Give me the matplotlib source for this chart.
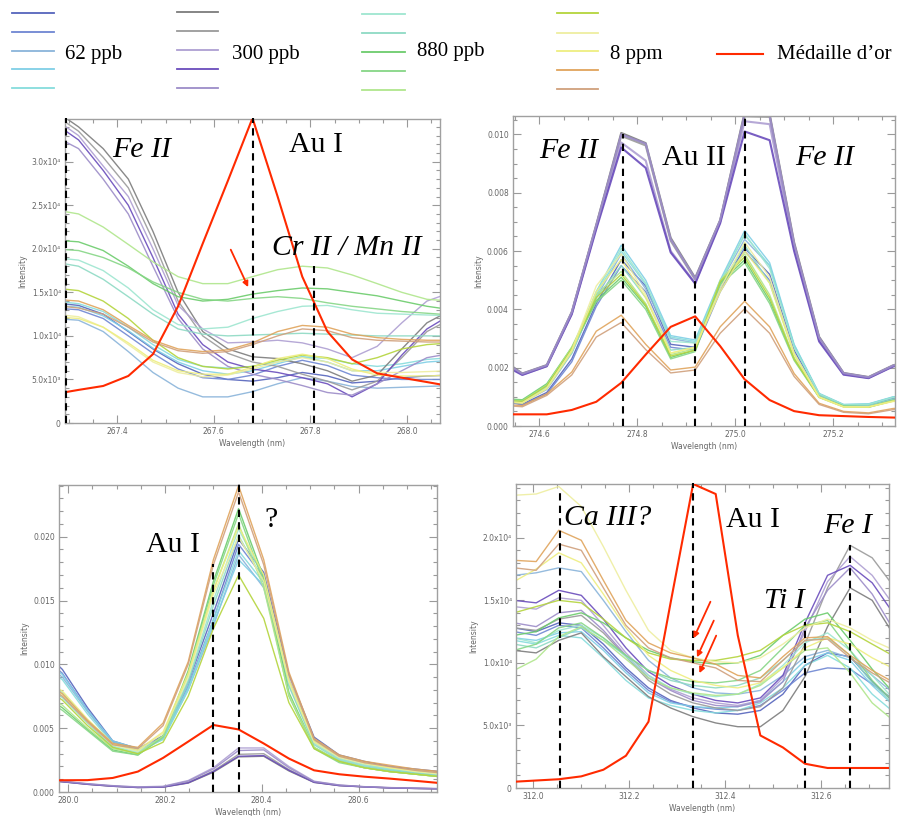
import numpy as np
import matplotlib.pyplot as plt
from matplotlib.lines import Line2D
from matplotlib.ticker import MultipleLocator, AutoMinorLocator, FuncFormatter

W, H = 902, 816

# legend groups
groups = ['62 ppb', '300 ppb', '880 ppb', '8 ppm']
gold_label = 'Médaille d\u2019or'
c62 = ['#5564bc', '#6e86d2', '#8ab4da', '#7fcfe6', '#86dcdc']
c300 = ['#7c7c7c', '#9a9a9a', '#ae9fd2', '#6a4cbc', '#9c8cc8']
c880 = ['#9ee6d0', '#8edac4', '#6ccc6c', '#86d686', '#b0e68c']
c8ppm = ['#b4d43c', '#eeeea0', '#eeee80', '#e0a45c', '#d0a07c']
gold_color = '#ff2a00'

# ---- panel 1 : 267 nm, intensity in units of 1e3
p1_x = [267.268, 267.320, 267.371, 267.423, 267.474, 267.526, 267.577, 267.629, 267.680,
        267.732, 267.783, 267.835, 267.886, 267.938, 267.989, 268.041, 268.092]
p1_red = [3.3, 3.8, 4.25, 5.4, 7.9, 13.4, 20.6, 27.8, 35.0, 26.0, 16.8, 10.5, 7.3, 5.7, 5.2, 4.7, 4.2]
p1_62 = [
    [13.8, 13.5, 12.5, 10.5, 8.5, 6.8, 5.6, 5.0, 4.8, 5.2, 5.8, 5.4, 4.6, 4.8, 5.2, 5.4, 5.5],
    [13.2, 13.0, 12.0, 10.0, 8.0, 6.2, 5.2, 5.0, 5.5, 6.5, 7.2, 6.6, 5.5, 5.2, 5.0, 5.0, 5.0],
    [12.0, 11.8, 10.5, 8.2, 5.8, 4.0, 3.0, 3.0, 3.6, 4.5, 5.2, 4.8, 4.2, 4.0, 4.1, 4.2, 4.3],
    [13.5, 13.3, 12.3, 10.6, 8.6, 7.0, 6.0, 5.6, 6.0, 6.8, 7.6, 7.0, 6.0, 6.0, 6.5, 7.0, 7.2],
    [14.0, 13.7, 12.8, 11.0, 9.0, 7.3, 6.5, 6.3, 6.5, 7.0, 7.6, 7.4, 6.8, 6.5, 6.8, 7.3, 7.5],
]
p1_300 = [
    [36.0, 34.0, 31.5, 28.0, 22.0, 15.0, 10.5, 8.5, 7.6, 7.4, 6.8, 6.0, 4.8, 5.5, 8.5, 11.5, 13.0],
    [35.5, 33.5, 30.5, 27.0, 21.0, 14.0, 10.0, 8.0, 7.0, 6.5, 5.6, 4.8, 3.8, 4.8, 7.5, 10.5, 12.0],
    [35.0, 33.0, 29.5, 26.0, 20.0, 13.5, 10.8, 9.2, 9.3, 9.5, 9.2, 8.5, 7.5, 8.8, 11.5, 14.0, 15.0],
    [34.5, 32.5, 29.0, 25.0, 19.0, 12.5, 9.0, 7.0, 6.2, 5.8, 5.2, 4.5, 3.0, 4.5, 7.8, 10.8, 12.5],
    [33.0, 31.5, 28.0, 24.0, 18.0, 12.0, 8.5, 6.5, 5.6, 5.0, 4.3, 3.5, 3.2, 4.5, 6.0, 7.5, 8.0],
]
p1_880 = [
    [19.0, 18.7, 17.5, 15.5, 13.0, 11.3, 10.8, 11.0, 12.0, 12.8, 13.4, 13.5, 13.0, 12.6, 12.5, 12.4, 12.3],
    [18.5, 18.0, 16.5, 14.5, 12.5, 10.8, 10.2, 10.0, 10.1, 10.2, 10.3, 10.2, 10.1, 10.0, 10.0, 10.0, 10.0],
    [21.0, 20.8, 19.8, 18.0, 16.0, 14.5, 14.0, 14.2, 14.8, 15.2, 15.5, 15.4, 15.0, 14.6, 14.0, 13.4, 13.0],
    [20.0, 19.8, 19.0, 17.8, 16.2, 15.0, 14.2, 14.0, 14.3, 14.5, 14.3, 13.8, 13.4, 13.1, 12.8, 12.6, 12.4],
    [24.5, 24.0, 22.5, 20.5, 18.5, 16.8, 16.0, 16.0, 16.8, 17.6, 18.0, 17.8, 17.0, 16.0, 15.0, 14.2, 14.0],
]
p1_8ppm = [
    [15.5, 15.2, 14.0, 12.0, 9.5, 7.5, 6.5, 6.2, 6.5, 7.2, 7.8, 7.5, 6.8, 7.5, 8.5, 9.0, 9.2],
    [12.5, 12.2, 11.0, 9.0, 7.0, 5.8, 5.3, 5.5, 6.2, 7.0, 7.5, 7.0, 6.0, 5.8, 5.8, 5.9, 6.0],
    [12.2, 12.0, 11.0, 9.2, 7.2, 6.0, 5.6, 5.6, 6.4, 7.4, 7.9, 7.4, 6.2, 5.5, 5.4, 5.4, 5.5],
    [14.2, 14.0, 13.0, 11.2, 9.5, 8.5, 8.2, 8.4, 9.2, 10.5, 11.2, 11.0, 10.2, 9.8, 9.6, 9.5, 9.5],
    [13.5, 13.2, 12.5, 11.0, 9.3, 8.3, 8.0, 8.2, 9.0, 10.0, 10.8, 10.6, 9.8, 9.5, 9.4, 9.3, 9.3],
]

# ---- panel 2 : 275 nm, intensity in units of 1e-3
p2_x = [274.514, 274.565, 274.615, 274.666, 274.716, 274.767, 274.817, 274.868, 274.918,
        274.969, 275.019, 275.070, 275.120, 275.171, 275.221, 275.272, 275.322, 275.373]
p2_red = [0.40, 0.40, 0.40, 0.55, 0.83, 1.48, 2.45, 3.40, 3.76, 2.74, 1.60, 0.89, 0.51, 0.37, 0.34, 0.31, 0.29, 0.27]
p2_62 = [
    [0.90, 0.75, 1.15, 2.3, 4.2, 5.7, 4.8, 2.8, 2.7, 4.7, 6.1, 5.2, 2.6, 1.05, 0.70, 0.72, 0.95, 1.0],
    [0.90, 0.72, 1.10, 2.2, 4.1, 5.5, 4.6, 2.7, 2.6, 4.6, 6.0, 5.0, 2.5, 1.00, 0.68, 0.70, 0.92, 1.0],
    [0.95, 0.80, 1.25, 2.5, 4.4, 5.9, 4.7, 3.0, 2.85, 4.9, 6.4, 5.5, 2.75, 1.10, 0.72, 0.74, 0.98, 1.05],
    [1.00, 0.85, 1.35, 2.6, 4.6, 6.2, 5.0, 3.1, 2.95, 5.0, 6.7, 5.6, 2.8, 1.12, 0.74, 0.76, 1.00, 1.05],
    [0.95, 0.82, 1.30, 2.55, 4.5, 6.0, 4.85, 3.05, 2.9, 4.95, 6.55, 5.5, 2.78, 1.10, 0.73, 0.75, 0.99, 1.05],
]
p2_300 = [
    [2.40, 1.80, 2.09, 3.91, 6.90, 10.05, 9.70, 6.45, 5.08, 7.06, 10.75, 10.70, 6.30, 3.06, 1.82, 1.68, 2.08, 2.30],
    [2.30, 1.78, 2.07, 3.88, 6.85, 9.95, 9.62, 6.35, 5.02, 7.02, 10.62, 10.60, 6.20, 3.00, 1.80, 1.66, 2.06, 2.30],
    [2.30, 1.76, 2.05, 3.85, 6.80, 9.72, 9.10, 6.00, 4.90, 7.00, 10.45, 10.35, 6.10, 2.95, 1.78, 1.65, 2.05, 2.20],
    [2.20, 1.75, 2.05, 3.83, 6.75, 9.55, 8.85, 5.95, 4.88, 6.95, 10.10, 9.80, 6.00, 2.90, 1.76, 1.64, 2.04, 2.20],
    [2.35, 1.79, 2.08, 3.90, 6.88, 10.00, 9.68, 6.40, 5.05, 7.05, 10.70, 10.65, 6.25, 3.03, 1.81, 1.67, 2.07, 2.30],
]
p2_880 = [
    [0.95, 0.85, 1.35, 2.6, 4.6, 6.1, 4.9, 2.9, 2.85, 4.9, 6.6, 5.4, 2.7, 1.10, 0.73, 0.74, 0.98, 1.0],
    [0.92, 0.82, 1.30, 2.5, 4.4, 5.5, 4.4, 2.6, 2.7, 4.8, 6.2, 4.9, 2.5, 1.05, 0.70, 0.70, 0.92, 1.0],
    [0.95, 0.90, 1.45, 2.7, 4.3, 5.1, 4.1, 2.35, 2.6, 4.9, 5.7, 4.3, 2.3, 1.00, 0.68, 0.66, 0.88, 0.95],
    [0.95, 0.88, 1.42, 2.65, 4.25, 5.0, 4.0, 2.3, 2.55, 4.85, 5.6, 4.2, 2.25, 0.98, 0.66, 0.64, 0.86, 0.9],
    [0.90, 0.85, 1.40, 2.7, 4.5, 5.3, 4.2, 2.45, 2.65, 5.0, 5.9, 4.5, 2.35, 1.00, 0.67, 0.66, 0.87, 0.9],
]
p2_8ppm = [
    [0.90, 0.84, 1.38, 2.65, 4.4, 5.2, 4.15, 2.4, 2.6, 4.95, 5.8, 4.4, 2.3, 1.00, 0.66, 0.65, 0.86, 0.9],
    [0.85, 0.80, 1.30, 2.6, 4.8, 5.9, 4.5, 2.5, 2.7, 4.7, 6.3, 5.1, 2.5, 1.00, 0.66, 0.66, 0.85, 0.9],
    [0.85, 0.78, 1.28, 2.55, 4.6, 5.7, 4.4, 2.5, 2.7, 4.6, 6.0, 4.9, 2.45, 0.98, 0.65, 0.65, 0.84, 0.9],
    [0.75, 0.70, 1.10, 1.85, 3.25, 3.80, 2.80, 1.92, 2.02, 3.40, 4.28, 3.40, 1.80, 0.78, 0.50, 0.45, 0.60, 0.65],
    [0.72, 0.66, 1.05, 1.75, 3.05, 3.55, 2.62, 1.82, 1.92, 3.18, 4.02, 3.18, 1.70, 0.74, 0.47, 0.42, 0.56, 0.60],
]

# ---- panel 3 : 280 nm, intensity in units of 1e-3
p3_x = [279.936, 279.988, 280.040, 280.092, 280.144, 280.196, 280.248, 280.300, 280.352,
        280.404, 280.456, 280.508, 280.560, 280.612, 280.664, 280.716, 280.768]
p3_red = [0.9, 0.92, 0.93, 1.1, 1.6, 2.67, 3.95, 5.25, 4.9, 3.8, 2.62, 1.70, 1.39, 1.2, 1.05, 0.88, 0.7]
p3_62 = [
    [11.5, 9.6, 6.6, 4.0, 3.4, 4.4, 8.6, 14.0, 19.8, 17.2, 9.2, 4.3, 2.9, 2.4, 2.0, 1.8, 1.6],
    [11.0, 9.3, 6.4, 3.9, 3.3, 4.3, 8.3, 13.5, 19.4, 16.8, 8.8, 4.1, 2.8, 2.3, 1.9, 1.7, 1.5],
    [10.5, 9.0, 6.3, 3.9, 3.3, 4.2, 8.0, 13.0, 18.6, 16.0, 8.4, 3.9, 2.7, 2.2, 1.8, 1.6, 1.4],
    [10.8, 9.2, 6.4, 4.0, 3.4, 4.2, 8.2, 13.2, 18.2, 16.2, 8.6, 4.0, 2.7, 2.2, 1.8, 1.6, 1.4],
    [10.2, 8.8, 6.1, 3.8, 3.2, 4.1, 8.0, 13.5, 18.9, 16.4, 8.5, 3.9, 2.6, 2.1, 1.7, 1.5, 1.3],
]
p3_300 = [
    [0.95, 0.80, 0.60, 0.45, 0.35, 0.38, 0.70, 1.55, 2.75, 2.80, 1.65, 0.75, 0.50, 0.40, 0.32, 0.28, 0.25],
    [0.95, 0.82, 0.62, 0.46, 0.36, 0.40, 0.75, 1.65, 2.95, 3.00, 1.75, 0.78, 0.52, 0.40, 0.33, 0.28, 0.25],
    [1.00, 0.85, 0.65, 0.50, 0.40, 0.45, 0.90, 1.90, 3.45, 3.45, 2.00, 0.85, 0.55, 0.42, 0.35, 0.30, 0.27],
    [0.95, 0.80, 0.60, 0.45, 0.35, 0.38, 0.72, 1.60, 2.80, 2.85, 1.70, 0.76, 0.50, 0.40, 0.32, 0.28, 0.25],
    [1.00, 0.84, 0.64, 0.48, 0.38, 0.42, 0.85, 1.80, 3.25, 3.30, 1.90, 0.82, 0.54, 0.41, 0.34, 0.29, 0.26],
]
p3_880 = [
    [9.0, 7.8, 5.6, 3.6, 3.1, 4.3, 8.8, 15.0, 20.6, 16.8, 8.5, 3.8, 2.6, 2.1, 1.8, 1.6, 1.4],
    [8.6, 7.4, 5.4, 3.5, 3.0, 4.2, 8.6, 14.6, 20.1, 16.5, 8.3, 3.7, 2.5, 2.0, 1.7, 1.5, 1.3],
    [7.8, 6.6, 4.9, 3.3, 2.9, 4.4, 9.5, 16.5, 22.2, 16.8, 7.8, 3.5, 2.4, 1.9, 1.6, 1.4, 1.2],
    [7.6, 6.4, 4.8, 3.2, 2.9, 4.3, 9.3, 16.2, 21.8, 16.4, 7.5, 3.4, 2.3, 1.9, 1.6, 1.4, 1.2],
    [8.0, 6.8, 5.0, 3.4, 3.0, 4.4, 9.2, 15.8, 21.0, 16.0, 7.6, 3.5, 2.4, 1.9, 1.6, 1.4, 1.2],
]
p3_8ppm = [
    [8.5, 7.2, 5.2, 3.5, 3.0, 3.9, 7.5, 12.8, 17.0, 13.6, 7.0, 3.4, 2.4, 1.9, 1.6, 1.4, 1.2],
    [9.0, 7.6, 5.5, 3.7, 3.2, 4.6, 9.0, 15.5, 20.0, 16.5, 8.6, 3.9, 2.7, 2.2, 1.9, 1.6, 1.4],
    [9.2, 7.9, 5.7, 3.8, 3.3, 4.7, 9.3, 15.8, 20.8, 17.0, 8.8, 4.0, 2.8, 2.3, 1.9, 1.7, 1.5],
    [9.0, 7.7, 5.6, 3.8, 3.5, 5.4, 10.2, 18.2, 24.0, 18.2, 9.4, 4.2, 2.9, 2.4, 2.1, 1.8, 1.6],
    [8.8, 7.5, 5.5, 3.7, 3.4, 5.2, 10.0, 17.8, 23.5, 17.8, 9.2, 4.1, 2.8, 2.3, 2.0, 1.7, 1.5],
]

# ---- panel 4 : 312 nm, intensity in units of 1e3
p4_x = [311.960, 312.006, 312.053, 312.100, 312.146, 312.193, 312.240, 312.286, 312.333,
        312.380, 312.426, 312.473, 312.520, 312.566, 312.613, 312.660, 312.706, 312.753]
p4_red = [0.5, 0.6, 0.7, 0.93, 1.46, 2.58, 5.3, 14.8, 24.3, 23.5, 12.2, 4.2, 3.24, 1.94, 1.6, 1.6, 1.6, 1.6]
p4_62 = [
    [12.8, 12.5, 13.2, 13.0, 11.5, 9.6, 8.0, 7.0, 6.4, 6.0, 5.9, 6.2, 7.5, 9.8, 10.8, 10.5, 8.5, 6.8],
    [12.5, 12.2, 13.0, 12.8, 11.2, 9.4, 7.8, 6.9, 6.5, 6.3, 6.2, 6.6, 7.8, 9.2, 9.6, 9.5, 8.3, 7.0],
    [17.0, 17.2, 17.6, 17.3, 15.0, 12.5, 10.2, 8.8, 8.0, 7.6, 7.5, 7.8, 9.0, 10.5, 11.0, 10.4, 9.0, 7.5],
    [12.0, 11.8, 12.4, 12.5, 11.0, 9.2, 7.6, 6.8, 6.5, 6.4, 6.5, 7.0, 8.5, 10.2, 10.8, 10.2, 8.2, 6.5],
    [11.8, 11.5, 12.2, 12.0, 10.4, 8.6, 7.2, 6.6, 6.2, 6.0, 6.2, 6.8, 8.0, 9.8, 10.6, 9.6, 7.5, 6.0],
]
p4_300 = [
    [11.0, 10.8, 11.8, 12.4, 10.5, 8.9, 7.3, 6.4, 5.7, 5.2, 4.9, 4.9, 6.2, 8.9, 12.9, 16.0, 15.0, 12.1],
    [12.8, 12.6, 13.5, 13.8, 12.4, 10.5, 8.6, 7.5, 6.8, 6.4, 6.2, 6.5, 8.0, 11.5, 16.0, 19.4, 18.4, 16.0],
    [14.5, 14.3, 15.2, 15.0, 13.0, 10.8, 9.0, 7.9, 7.2, 6.8, 6.6, 7.0, 8.8, 12.5, 16.5, 18.5, 17.0, 14.5],
    [15.0, 14.8, 15.8, 15.4, 13.5, 11.2, 9.3, 8.2, 7.5, 7.0, 6.8, 7.2, 9.0, 13.2, 17.0, 17.8, 16.4, 13.8],
    [13.2, 12.9, 14.0, 14.2, 12.6, 10.6, 8.8, 7.8, 7.0, 6.6, 6.5, 6.9, 8.5, 12.8, 15.8, 17.6, 15.5, 12.5],
]
p4_880 = [
    [12.0, 11.6, 12.6, 13.0, 12.0, 10.5, 9.0, 8.0, 7.5, 7.3, 7.5, 8.3, 9.8, 11.6, 12.4, 11.0, 9.0, 7.0],
    [11.5, 11.2, 12.0, 12.8, 11.8, 10.6, 9.4, 8.6, 8.2, 8.0, 8.2, 8.8, 10.2, 11.8, 12.0, 10.6, 8.4, 6.6],
    [12.2, 12.5, 13.6, 14.0, 13.2, 12.0, 11.0, 10.4, 10.1, 9.9, 10.0, 10.6, 12.2, 13.5, 14.0, 11.8, 9.5, 7.5],
    [11.0, 11.5, 12.8, 13.2, 12.0, 10.6, 9.4, 8.8, 8.5, 8.4, 8.6, 9.4, 11.2, 13.0, 13.4, 11.0, 8.6, 6.8],
    [9.4, 10.3, 12.1, 12.9, 11.8, 10.3, 8.8, 8.0, 7.6, 7.4, 7.5, 8.2, 9.6, 11.0, 11.2, 9.2, 6.8, 5.3],
]
p4_8ppm = [
    [14.0, 14.5, 15.0, 14.8, 13.5, 12.0, 10.8, 10.3, 10.2, 10.2, 10.5, 11.0, 12.2, 13.0, 13.2, 12.5, 11.5, 10.5],
    [23.4, 23.5, 24.1, 22.5, 19.3, 15.8, 12.6, 11.0, 10.4, 10.1, 10.0, 10.4, 11.5, 12.8, 13.5, 12.8, 11.8, 11.0],
    [16.5, 17.5, 18.8, 18.0, 15.5, 12.8, 10.6, 9.4, 8.6, 8.2, 8.0, 8.4, 9.6, 11.2, 12.0, 11.5, 10.4, 9.5],
    [18.2, 18.1, 20.6, 19.8, 16.6, 13.4, 11.6, 10.8, 10.4, 9.9, 9.0, 8.8, 10.5, 12.0, 12.1, 10.6, 9.4, 8.4],
    [17.6, 17.4, 19.5, 19.0, 16.0, 13.0, 11.2, 10.4, 10.0, 9.6, 8.6, 8.5, 10.2, 11.8, 11.9, 10.4, 9.2, 8.2],
]

# line markers (dashed) : x position and top value
p1_dash_x, p1_dash_top = [267.295, 267.680, 267.808], [35000, 35000, 18000]
p2_dash_x, p2_dash_top = [274.770, 274.918, 275.019], [0.0100, 0.00506, 0.0107]
p3_dash_x, p3_dash_top = [280.299, 280.352], [0.01784, 0.0241]
p4_dash_x, p4_dash_top = [312.055, 312.333, 312.565, 312.659], [23900, 24400, 13300, 19400]

# red arrows (tail -> tip)
p1_arrows = [((267.635, 19900), (267.671, 15600))]
p4_arrows = [((312.369, 14890), (312.334, 11970)),
             ((312.376, 13380), (312.341, 10450)),
             ((312.381, 12180), (312.346, 9180))]

SUP = {3: '\u00b3', 4: '\u2074'}


def sci_fmt(v, pos):
    if abs(v) < 1e-9:
        return '0'
    e = int(np.floor(np.log10(abs(v)) + 1e-9))
    return '%.1fx10%s' % (v / 10 ** e, SUP.get(e, str(e)))


def fx(px):
    return px / W


def fy(py):
    return 1 - py / H


fig = plt.figure(figsize=(W / 100, H / 100), dpi=100)
fig.patch.set_facecolor('white')


def make_ax(box, xlim, ylim, xmaj, ymaj, ymin_div, yfmt):
    l, t, r, b = box
    ax = fig.add_axes([fx(l), fy(b), fx(r - l), (b - t) / H])
    ax.set_xlim(*xlim)
    ax.set_ylim(*ylim)
    ax.xaxis.set_major_locator(MultipleLocator(xmaj))
    ax.xaxis.set_minor_locator(AutoMinorLocator(4))
    ax.yaxis.set_major_locator(MultipleLocator(ymaj))
    ax.yaxis.set_minor_locator(AutoMinorLocator(ymin_div))
    ax.yaxis.set_major_formatter(FuncFormatter(yfmt))
    ax.xaxis.set_major_formatter(FuncFormatter(lambda v, p: '%.1f' % v))
    ax.tick_params(which='both', direction='in', top=True, right=True,
                   color='#9a9a9a', width=0.8, labelsize=5.5, labelcolor='#666666', pad=3)
    ax.tick_params(which='major', length=6)
    ax.tick_params(which='minor', length=3)
    for s in ax.spines.values():
        s.set_color('#a0a0a0')
        s.set_linewidth(1.0)
    ax.set_xlabel('Wavelength (nm)', fontsize=5.5, color='#666666', labelpad=2)
    ax.set_ylabel('Intensity', fontsize=5.5, color='#666666', labelpad=3)
    return ax


def draw(ax, x, sets, red, scale, dash_x, dash_top, lw300=1.0):
    for gi, (series, cols) in enumerate(zip(sets, [c62, c300, c880, c8ppm])):
        lw = lw300 if gi == 1 else 1.0
        for ys, c in zip(series, cols):
            ax.plot(x, np.array(ys) * scale, color=c, lw=lw, alpha=0.9, zorder=2)
    ax.plot(x, np.array(red) * scale, color=gold_color, lw=1.5, zorder=4)
    for dx, dt in zip(dash_x, dash_top):
        ax.plot([dx, dx], [0, dt], color='black', lw=1.5, ls=(0, (3.5, 2.5)), zorder=5,
                clip_on=False)


def fmt3(v, p):
    return '%.3f' % v


ax1 = make_ax((65, 119, 440, 423), (267.292, 268.068), (0, 34900), 0.2, 5000, 5, sci_fmt)
draw(ax1, p1_x, [p1_62, p1_300, p1_880, p1_8ppm], p1_red, 1e3, p1_dash_x, p1_dash_top)

ax2 = make_ax((513, 116, 895, 426), (274.546, 275.326), (0, 0.01063), 0.2, 0.002, 4, fmt3)
draw(ax2, p2_x, [p2_62, p2_300, p2_880, p2_8ppm], p2_red, 1e-3, p2_dash_x, p2_dash_top,
     lw300=1.5)

ax3 = make_ax((59, 485, 437, 792), (279.981, 280.762), (0, 0.02405), 0.2, 0.005, 5, fmt3)
draw(ax3, p3_x, [p3_62, p3_300, p3_880, p3_8ppm], p3_red, 1e-3, p3_dash_x, p3_dash_top)

ax4 = make_ax((516, 484, 889, 788), (311.964, 312.741), (0, 24300), 0.2, 5000, 5, sci_fmt)
draw(ax4, p4_x, [p4_62, p4_300, p4_880, p4_8ppm], p4_red, 1e3, p4_dash_x, p4_dash_top)

for ax, arrows in [(ax1, p1_arrows), (ax4, p4_arrows)]:
    for tail, tip in arrows:
        ax.annotate('', xy=tip, xytext=tail,
                    arrowprops=dict(arrowstyle='-|>', color=gold_color, lw=1.3,
                                    mutation_scale=8, shrinkA=0, shrinkB=0), zorder=6)

# line labels
serif = 'Liberation Serif'
labels = [
    ('Fe II', 142, 157, True), ('Au I', 316, 152, False), ('Cr II / Mn II', 347, 255, True),
    ('Fe II', 569, 158, True), ('Au II', 694, 165, False), ('Fe II', 825, 165, True),
    ('Au I', 173, 552, False), ('?', 271, 527, False),
    ('Ca III?', 608, 525, True), ('Au I', 753, 527, False), ('Fe I', 848, 533, True),
    ('Ti I', 784, 608, True),
]
for txt, px, py, it in labels:
    fig.text(fx(px), fy(py), txt, family=serif, style='italic' if it else 'normal',
             fontsize=21.5, ha='center', va='baseline', color='black')

# legend
leg_cols = [c62, c300, c880, c8ppm]
leg_x = [(12, 54), (177, 218), (362, 405), (557, 598)]
leg_rows = [[12.7, 31.7, 50.7, 69.3, 88.3], [11.7, 30.7, 50, 69, 87.7],
            [14, 32.7, 51.7, 70.7, 90], [13.3, 32.7, 51.3, 70.3, 89]]
leg_text = [(65, 59), (232, 59), (417, 56), (610, 59)]
for g, cols, (x0, x1), rows, (tx, ty) in zip(groups, leg_cols, leg_x, leg_rows, leg_text):
    for c, ry in zip(cols, rows):
        fig.add_artist(Line2D([fx(x0), fx(x1)], [fy(ry), fy(ry)], color=c, lw=1.3,
                              transform=fig.transFigure))
    fig.text(fx(tx), fy(ty), g, family=serif, fontsize=15, ha='left', va='baseline')
fig.add_artist(Line2D([fx(717), fx(763)], [fy(54), fy(54)], color=gold_color, lw=1.5,
                      transform=fig.transFigure))
fig.text(fx(777), fy(59), gold_label, family=serif, fontsize=15, ha='left', va='baseline')

fig.savefig('out.png', dpi=100)
